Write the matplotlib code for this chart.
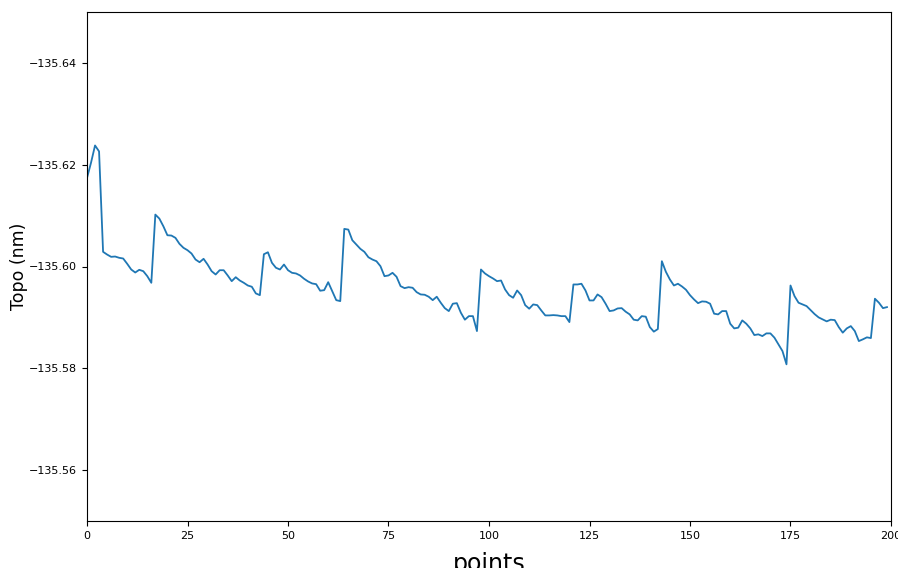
import matplotlib
matplotlib.use("Agg")
import matplotlib.pyplot as plt
from matplotlib.ticker import ScalarFormatter

topo = [
    -135.61739, -135.62039, -135.62378, -135.62261, -135.60288, -135.60235, -135.60190, -135.60196, -135.60171, -135.60157,
    -135.60053, -135.59941, -135.59882, -135.59935, -135.59908, -135.59810, -135.59680, -135.61020, -135.60941, -135.60790,
    -135.60614, -135.60608, -135.60563, -135.60445, -135.60367, -135.60320, -135.60255, -135.60137, -135.60084, -135.60151,
    -135.60039, -135.59908, -135.59843, -135.59927, -135.59927, -135.59824, -135.59712, -135.59790, -135.59725, -135.59680,
    -135.59627, -135.59602, -135.59471, -135.59437, -135.60241, -135.60280, -135.60073, -135.59975, -135.59941, -135.60039,
    -135.59927, -135.59876, -135.59863, -135.59824, -135.59759, -135.59706, -135.59667, -135.59653, -135.59524, -135.59535,
    -135.59692, -135.59516, -135.59339, -135.59320, -135.60739, -135.60725, -135.60516, -135.60431, -135.60347, -135.60288,
    -135.60182, -135.60137, -135.60104, -135.60006, -135.59810, -135.59824, -135.59876, -135.59798, -135.59614, -135.59575,
    -135.59594, -135.59582, -135.59496, -135.59451, -135.59445, -135.59406, -135.59339, -135.59406, -135.59288, -135.59182,
    -135.59124, -135.59269, -135.59280, -135.59092, -135.58955, -135.59025, -135.59025, -135.58731, -135.59941, -135.59863,
    -135.59810, -135.59765, -135.59712, -135.59725, -135.59549, -135.59437, -135.59386, -135.59529, -135.59437, -135.59241,
    -135.59171, -135.59255, -135.59241, -135.59137, -135.59039, -135.59039, -135.59045, -135.59039, -135.59025, -135.59025,
    -135.58908, -135.59647, -135.59647, -135.59661, -135.59529, -135.59333, -135.59333, -135.59451, -135.59398, -135.59269,
    -135.59124, -135.59137, -135.59176, -135.59182, -135.59112, -135.59059, -135.58955, -135.58941, -135.59025, -135.59014,
    -135.58810, -135.58720, -135.58771, -135.60104, -135.59896, -135.59745, -135.59627, -135.59661, -135.59608, -135.59543,
    -135.59437, -135.59353, -135.59280, -135.59314, -135.59308, -135.59269, -135.59073, -135.59059, -135.59124, -135.59124,
    -135.58876, -135.58784, -135.58798, -135.58941, -135.58876, -135.58784, -135.58653, -135.58667, -135.58633, -135.58686,
    -135.58686, -135.58602, -135.58471, -135.58339, -135.58078, -135.59627, -135.59418, -135.59288, -135.59255, -135.59222,
    -135.59143, -135.59065, -135.59000, -135.58961, -135.58922, -135.58955, -135.58947, -135.58810, -135.58700, -135.58784,
    -135.58829, -135.58731, -135.58535, -135.58569, -135.58608, -135.58594, -135.59367, -135.59288, -135.59182, -135.59202,
]
points = list(range(len(topo)))

xticks = [0, 25, 50, 75, 100, 125, 150, 175, 200]
yticks = [-135.64, -135.62, -135.60, -135.58, -135.56]

fig = plt.figure(figsize=(8.98, 5.68), dpi=100)
ax = fig.add_axes([87/898, 1 - 521/568, (891-87)/898, (521-12)/568])
ax.plot(points, topo, color="#1f77b4", linewidth=1.3)
ax.set_xlim(0, 200)
ax.set_ylim(-135.55, -135.65)
ax.set_xticks(xticks)
ax.set_yticks(yticks)
fmt = ScalarFormatter(useOffset=False)
ax.yaxis.set_major_formatter(fmt)
ax.tick_params(labelsize=8)
ax.set_xlabel("points", fontsize=17, labelpad=8)
ax.set_ylabel("Topo (nm)", fontsize=12.5, labelpad=1)
fig.savefig("out.png", dpi=100)
